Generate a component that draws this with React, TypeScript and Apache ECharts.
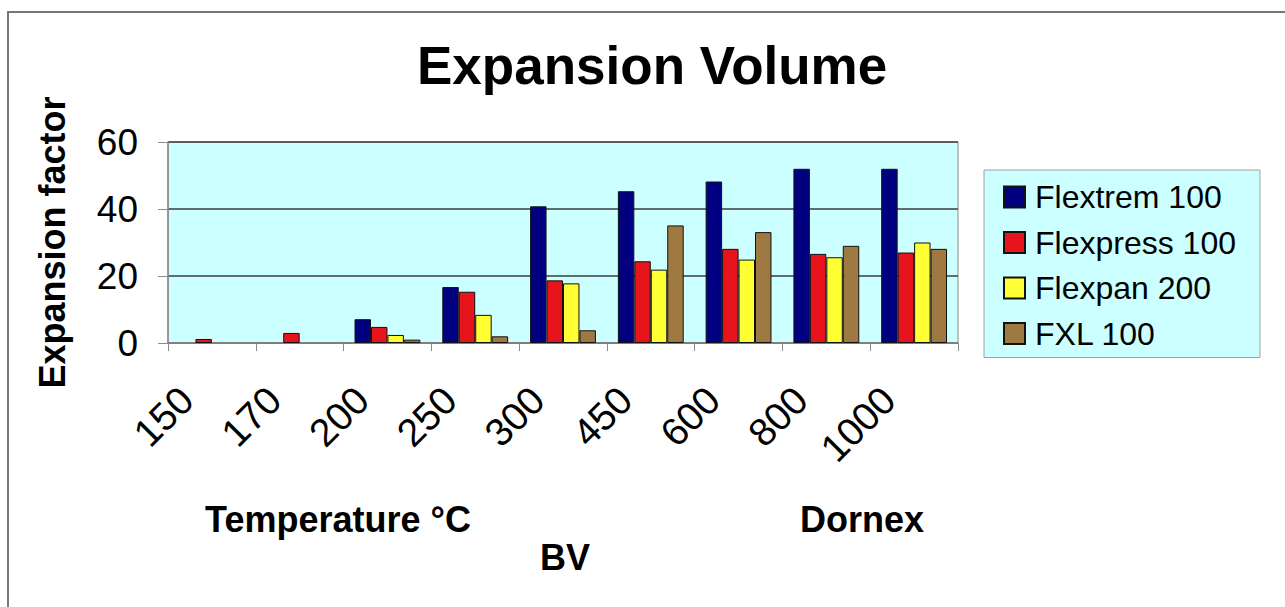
import React, { useEffect, useRef } from "react";
import * as echarts from "echarts";

const categories = ["150", "170", "200", "250", "300", "450", "600", "800", "1000"];
const seriesNames = ["Flextrem 100", "Flexpress 100", "Flexpan 200", "FXL 100"];
const flextrem = [null, null, 7.1, 16.7, 40.8, 45.3, 48.2, 52.0, 52.0];
const flexpress = [1.2, 3.0, 4.8, 15.3, 18.7, 24.4, 28.1, 26.6, 27.0];
const flexpan = [null, null, 2.4, 8.4, 17.8, 21.9, 24.9, 25.6, 30.0];
const fxl = [null, null, 1.0, 2.0, 3.8, 35.1, 33.1, 29.0, 28.1];
const colors = ["#000080", "#e8141c", "#ffff33", "#9e7a42"];
const yTicks = [0, 20, 40, 60];

const FONT = "'Liberation Sans', Arial, sans-serif";

export default function App() {
  const ref = useRef<HTMLDivElement>(null);
  useEffect(() => {
    if (!ref.current) return;
    const chart = echarts.init(ref.current, null, { renderer: "svg" });
    const values = [flextrem, flexpress, flexpan, fxl];
    chart.setOption({
      animation: false,
      backgroundColor: "#ffffff",
      textStyle: { fontFamily: FONT },
      title: {
        text: "Expansion Volume",
        left: 417,
        top: 39,
        padding: 0,
        textStyle: { fontSize: 53, fontWeight: "bold", color: "#000", fontFamily: FONT },
      },
      legend: {
        orient: "vertical",
        left: 984,
        top: 170,
        padding: [11, 24, 8, 19],
        backgroundColor: "#ccffff",
        borderColor: "#a0a0a0",
        borderWidth: 1,
        itemWidth: 21,
        itemHeight: 21,
        itemGap: 13.5,
        icon: "rect",
        data: seriesNames,
        textStyle: {
          fontSize: 32,
          color: "#000",
          fontFamily: FONT,
          padding: [0, 0, 0, 5],
        },
      },
      grid: {
        left: 168,
        right: 327,
        top: 142,
        bottom: 264,
        show: true,
        backgroundColor: "#ccffff",
        borderColor: "#8a8a8a",
        borderWidth: 1,
      },
      xAxis: {
        type: "category",
        data: categories,
        boundaryGap: true,
        axisLine: { lineStyle: { color: "#8a8a8a", width: 1.5 } },
        axisTick: { show: true, length: 8, interval: 0, lineStyle: { color: "#8a8a8a" } },
        axisLabel: {
          interval: 0,
          rotate: 45,
          margin: 25,
          padding: [0, 36, 0, 0],
          fontSize: 39,
          color: "#000",
          fontFamily: FONT,
        },
      },
      yAxis: {
        type: "value",
        min: yTicks[0],
        max: yTicks[yTicks.length - 1],
        interval: 20,
        name: "Expansion factor",
        nameLocation: "middle",
        nameRotate: 90,
        nameGap: 98,
        nameTextStyle: { fontSize: 36, fontWeight: "bold", color: "#000", fontFamily: FONT },
        axisLine: { show: true, lineStyle: { color: "#8a8a8a", width: 1.5 } },
        axisTick: { show: true, length: 10, lineStyle: { color: "#8a8a8a" } },
        axisLabel: { fontSize: 37, color: "#000", margin: 30, fontFamily: FONT },
        splitLine: { show: true, lineStyle: { color: "#3c3c3c", width: 1.5 } },
      },
      series: values.map((v, i) => ({
        name: seriesNames[i],
        type: "bar",
        data: v,
        barGap: "0%",
        barCategoryGap: "25%",
        itemStyle: { color: colors[i], borderColor: "#111", borderWidth: 1 },
      })),
      graphic: [
        {
          type: "rect",
          z: -10,
          silent: true,
          shape: { x: 8, y: 12, width: 1400, height: 700 },
          style: { fill: "none", stroke: "#777", lineWidth: 2 },
        },
        {
          type: "text",
          x: 338,
          y: 519,
          style: {
            text: "Temperature °C",
            font: `bold 36px ${FONT}`,
            fill: "#000",
            align: "center",
            verticalAlign: "middle",
          },
        },
        {
          type: "text",
          x: 862,
          y: 519,
          style: {
            text: "Dornex",
            font: `bold 36px ${FONT}`,
            fill: "#000",
            align: "center",
            verticalAlign: "middle",
          },
        },
        {
          type: "text",
          x: 565,
          y: 557,
          style: {
            text: "BV",
            font: `bold 36px ${FONT}`,
            fill: "#000",
            align: "center",
            verticalAlign: "middle",
          },
        },
      ],
    });
    return () => chart.dispose();
  }, []);
  return (
    <div
      ref={ref}
      style={{ position: "fixed", left: 0, top: 0, width: 1285, height: 607 }}
    />
  );
}
